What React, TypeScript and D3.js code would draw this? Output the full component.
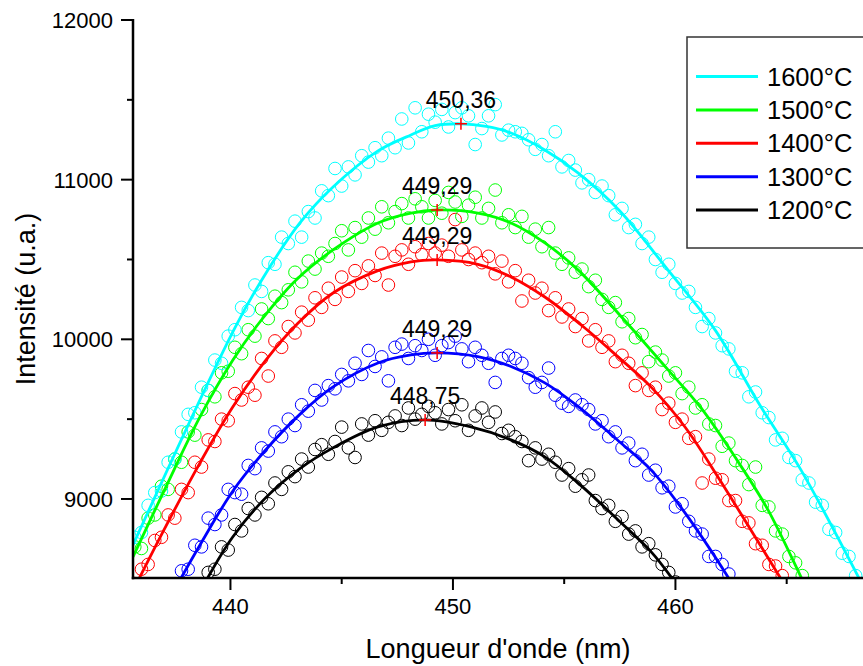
import React from "react";
import * as d3 from "d3";

// ---------- DATA ----------
const wavelengths = [
  435.7, 436.0, 436.3, 436.6, 436.9, 437.2, 437.5, 437.8, 438.1, 438.4,
  438.7, 439.0, 439.3, 439.6, 439.9, 440.2, 440.5, 440.8, 441.1, 441.4,
  441.7, 442.0, 442.3, 442.6, 442.9, 443.2, 443.5, 443.8, 444.1, 444.4,
  444.7, 445.0, 445.3, 445.6, 445.9, 446.2, 446.5, 446.8, 447.1, 447.4,
  447.7, 448.0, 448.3, 448.6, 448.9, 449.2, 449.5, 449.8, 450.1, 450.4,
  450.7, 451.0, 451.3, 451.6, 451.9, 452.2, 452.5, 452.8, 453.1, 453.4,
  453.7, 454.0, 454.3, 454.6, 454.9, 455.2, 455.5, 455.8, 456.1, 456.4,
  456.7, 457.0, 457.3, 457.6, 457.9, 458.2, 458.5, 458.8, 459.1, 459.4,
  459.7, 460.0, 460.3, 460.6, 460.9, 461.2, 461.5, 461.8, 462.1, 462.4,
  462.7, 463.0, 463.3, 463.6, 463.9, 464.2, 464.5, 464.8, 465.1, 465.4,
  465.7, 466.0, 466.3, 466.6, 466.9, 467.2, 467.5, 467.8, 468.1, 468.4,
];

const points1600 = [
  8760, 8790, 8960, 9040, 9050, 9230, 9250, 9420, 9530, 9540,
  9700, 9680, 9870, 9850, 10020, 10060, 10200, 10180, 10340, 10300,
  10480, 10470, 10640, 10600, 10740, 10640, 10800, 10760, 10930, 10900,
  11070, 10960, 11080, 11030, 11150, 11110, 11200, 11150, 11260, 11200,
  11380, 11230, 11450, 11300, 11410, 11360, 11440, 11330, 11420, 11450,
  11400, 11220, 11320, 11400, 11470, 11280, 11310, 11300, 11290, 11250,
  11190, 11220, 11150, 11300, 11080, 11120, 11060, 10980, 11000, 10920,
  10960, 10900, 10780, 10820, 10700, 10720, 10600, 10640, 10500, 10420,
  10470, 10350, 10290, 10300, 10200, 10080, 10130, 10040, 9960, 9940,
  9800, 9790, 9640, 9670, 9540, 9510, 9370, 9380, 9260, 9240,
  9120, 9100, 8980, 8960, 8810, 8790, 8660, 8640, 8520, 8470,
];

const points1500 = [
  8700, 8690, 8880, 8900, 9080, 9060, 9250, 9230, 9420, 9400,
  9560, 9680, 9640, 9790, 9800, 9950, 9910, 10060, 10020, 10190,
  10130, 10270, 10230, 10310, 10420, 10360, 10490, 10440, 10540, 10520,
  10600, 10680, 10560, 10700, 10640, 10760, 10690, 10830, 10730, 10800,
  10850, 10760, 10880, 10830, 10760, 10870, 10790, 10920, 10860, 10770,
  10840, 10890, 10760, 10820, 10935, 10730, 10780, 10700, 10770, 10640,
  10690, 10580, 10700, 10540, 10470, 10510, 10420, 10440, 10330, 10370,
  10250, 10200, 10230, 10110, 10130, 10010, 10030, 9860, 9920, 9870,
  9770, 9790, 9660, 9700, 9570, 9590, 9470, 9460, 9330, 9350,
  9240, 9210, 9090, 9200, 8960, 8950, 8800, 8780, 8640, 8600,
  8520, 8440, null, null, null, null, null, null, null, null,
];

const points1400 = [
  8470, 8560, 8590, 8740, 8760, 8900, 8880, 9060, 9040, 9230,
  9200, 9370, 9360, 9500, 9490, 9660, 9620, 9700, 9650, 9880,
  9770, 9990, 9950, 10080, 10040, 10170, 10120, 10260, 10200, 10320,
  10250, 10390, 10300, 10430, 10350, 10460, 10400, 10540, 10340, 10520,
  10560, 10470, 10580, 10530, 10600, 10540, 10590, 10520, 10750, 10560,
  10500, 10540, 10480, 10520, 10410, 10490, 10360, 10430, 10240, 10370,
  10290, 10320, 10180, 10260, 10140, 10190, 10080, 10130, 9990, 10060,
  9950, 9990, 9860, 9900, 9850, 9710, 9790, 9680, 9700, 9560,
  9600, 9480, 9500, 9380, 9390, 9100, 9250, 9130, 9120, 8990,
  8990, 8860, 8850, 8720, 8710, 8590, 8580, 8520, 8450, null,
  null, null, null, null, null, null, null, null, null, null,
];

const points1300 = [
  null, null, null, null, null, null, null, 8550, 8560, 8710,
  8700, 8880, 8840, 8900, 9060, 9040, 9030, 9210, 9190, 9320,
  9300, 9420, 9390, 9500, 9460, 9590, 9550, 9680, 9620, 9710,
  9690, 9780, 9740, 9850, 9780, 9930, 9830, 9890, 9740, 9950,
  9970, 9880, 9960, 9930, 10000, 9900, 9960, 9980, 10020, 9940,
  9860, 9950, 9900, 9850, 9730, 9880, 9900, 9880, 9850, 9760,
  9700, 9730, 9820, 9650, 9600, 9580, 9620, 9590, 9560, 9470,
  9490, 9390, 9420, 9320, 9350, 9240, 9280, 9150, 9180, 9070,
  9080, 8950, 8970, 8860, 8800, 8780, 8640, 8640, 8590, 8530,
  null, null, null, null, null, null, null, null, null, null,
  null, null, null, null, null, null, null, null, null, null,
];

const points1200 = [
  null, null, null, null, null, null, null, null, null, null,
  null, 8540, 8560, 8700, 8680, 8840, 8800, 8940, 8900, 9010,
  8970, 9100, 9060, 9170, 9140, 9250, 9200, 9310, 9340, 9280,
  9360, 9450, 9320, 9260, 9470, 9400, 9490, 9430, 9480, 9520,
  9460, 9570, 9500, 9530, 9580, 9540, 9470, 9560, 9490, 9590,
  9430, 9520, 9570, 9480, 9545, 9410, 9430, 9390, 9360, 9240,
  9320, 9250, 9280, 9230, 9150, 9190, 9080, 9120, 9150, 8990,
  8940, 8960, 8860, 8890, 8780, 8800, 8700, 8720, 8650, 8590,
  8540, 8480, null, null, null, null, null, null, null, null,
  null, null, null, null, null, null, null, null, null, null,
  null, null, null, null, null, null, null, null, null, null,
];

// fitted curves (knots)
const fit1600X = [435.62, 440.2, 441.6, 443.12, 444.61, 446.63, 448.11, 449.2, 450.36, 451.5, 452.61, 454.13, 455.62, 457.5, 459.66, 461.78, 463.84, 465.64, 468.45];
const fit1600Y = [8712, 10072, 10416, 10729, 10954, 11180, 11280, 11338, 11350, 11333, 11292, 11186, 11042, 10804, 10435, 10059, 9577, 9182, 8450];
const fit1500X = [435.62, 437.1, 438.63, 440.11, 441.33, 442.94, 444.61, 446.63, 448.11, 449.29, 451.12, 452.61, 454.13, 455.62, 457.64, 459.66, 461.15, 462.67, 464.16, 465.64, 466.2];
const fit1500Y = [8637, 9076, 9514, 9870, 10110, 10370, 10560, 10729, 10791, 10810, 10791, 10729, 10604, 10435, 10130, 9810, 9570, 9264, 8932, 8512, 8350];
const fit1400X = [435.6, 437.1, 438.63, 440.11, 441.6, 443.03, 444.61, 446.63, 448.11, 449.29, 451.12, 452.61, 454.13, 455.93, 457.42, 458.9, 460.43, 461.91, 463.39, 464.83, 465.3];
const fit1400Y = [8420, 8830, 9226, 9577, 9871, 10100, 10290, 10430, 10485, 10497, 10470, 10391, 10265, 10071, 9890, 9702, 9451, 9138, 8806, 8480, 8370];
const fit1300X = [437.6, 438.63, 440.11, 441.6, 443.12, 444.61, 446.63, 448.11, 449.29, 451.12, 452.61, 454.13, 455.62, 457.51, 458.9, 460.43, 462.36, 462.8];
const fit1300Y = [8460, 8712, 9050, 9310, 9530, 9702, 9852, 9902, 9915, 9892, 9830, 9727, 9580, 9355, 9182, 8913, 8512, 8410];
const fit1200X = [438.8, 440.11, 441.6, 443.12, 444.61, 446.63, 448.75, 450.81, 452.61, 454.13, 455.62, 457.51, 458.9, 459.8, 460.2];
const fit1200Y = [8462, 8763, 9010, 9190, 9320, 9451, 9495, 9451, 9370, 9264, 9101, 8857, 8670, 8512, 8430];

const seriesNames = ["1600°C", "1500°C", "1400°C", "1300°C", "1200°C"];
const seriesColors = ["#00ffff", "#00ff00", "#ff0000", "#0000ff", "#000000"];

const peakPositions = [450.36, 449.29, 449.29, 449.29, 448.75];
const peakIntensities = [11350, 10810, 10497, 9915, 9495];
const peakLabels = ["450,36", "449,29", "449,29", "449,29", "448,75"];

const xMajorTicks = [440, 450, 460];
const xMinorTicks = [445, 455, 465];
const yMajorTicks = [9000, 10000, 11000, 12000];
const yMinorTicks = [9500, 10500, 11500];

const xTitle = "Longueur d'onde (nm)";
const yTitle = "Intensité (u.a.)";

// ---------- LAYOUT ----------
const W = 863;
const H = 666;
const plotLeft = 133;
const plotRight = 863;
const plotTop = 20;
const plotBottom = 578;
const FONT = "'Liberation Sans', Arial, sans-serif";

export default function App() {
  const x = d3.scaleLinear().domain([435.62, 468.43]).range([plotLeft, plotRight]);
  const y = d3.scaleLinear().domain([8505, 12000]).range([plotBottom, plotTop]);

  const pointsAll = [points1600, points1500, points1400, points1300, points1200];
  const fitsX = [fit1600X, fit1500X, fit1400X, fit1300X, fit1200X];
  const fitsY = [fit1600Y, fit1500Y, fit1400Y, fit1300Y, fit1200Y];

  const line = d3
    .line<[number, number]>()
    .x((d) => x(d[0]))
    .y((d) => y(d[1]))
    .curve(d3.curveCatmullRom.alpha(0.5));

  const order = [4, 3, 2, 1, 0];

  return (
    <svg width={W} height={H} style={{ display: "block", position: "absolute", left: 0, top: 0, background: "#fff" }}>
      <defs>
        <clipPath id="plotClip">
          <rect x={plotLeft} y={plotTop} width={plotRight - plotLeft + 10} height={plotBottom - plotTop} />
        </clipPath>
      </defs>
      <rect x={0} y={0} width={W} height={H} fill="#fff" />

      <g clipPath="url(#plotClip)">
        {order.map((si) => (
          <g key={"pts" + si}>
            {pointsAll[si].map((v, i) =>
              v == null ? null : (
                <circle
                  key={i}
                  cx={x(wavelengths[i])}
                  cy={y(v)}
                  r={6.3}
                  fill="none"
                  stroke={seriesColors[si]}
                  strokeWidth={1}
                />
              )
            )}
          </g>
        ))}
        {order.map((si) => (
          <path
            key={"fit" + si}
            d={line(fitsX[si].map((xv, i) => [xv, fitsY[si][i]] as [number, number])) || ""}
            fill="none"
            stroke={seriesColors[si]}
            strokeWidth={2.8}
          />
        ))}
        {peakPositions.map((p, i) => (
          <g key={"cross" + i} stroke="#ff0000" strokeWidth={1.5}>
            <line x1={x(p) - 6} x2={x(p) + 6} y1={y(peakIntensities[i])} y2={y(peakIntensities[i])} />
            <line x1={x(p)} x2={x(p)} y1={y(peakIntensities[i]) - 6} y2={y(peakIntensities[i]) + 6} />
          </g>
        ))}
      </g>

      {peakPositions.map((p, i) => (
        <text
          key={"lbl" + i}
          x={x(p)}
          y={y(peakIntensities[i]) - 16}
          textAnchor="middle"
          fontFamily={FONT}
          fontSize={23}
          fill="#000"
        >
          {peakLabels[i]}
        </text>
      ))}

      {/* axes */}
      <line x1={plotLeft} x2={plotLeft} y1={plotTop - 1} y2={plotBottom + 1.25} stroke="#000" strokeWidth={2.5} />
      <line x1={plotLeft - 1.25} x2={plotRight + 2} y1={plotBottom} y2={plotBottom} stroke="#000" strokeWidth={2.5} />

      {yMajorTicks.map((t) => (
        <g key={"yt" + t}>
          <line x1={plotLeft - 12} x2={plotLeft} y1={y(t)} y2={y(t)} stroke="#000" strokeWidth={2} />
          <text x={plotLeft - 20} y={y(t) + 8} textAnchor="end" fontFamily={FONT} fontSize={22} fill="#000">
            {t}
          </text>
        </g>
      ))}
      {yMinorTicks.map((t) => (
        <line key={"ym" + t} x1={plotLeft - 6} x2={plotLeft} y1={y(t)} y2={y(t)} stroke="#000" strokeWidth={2} />
      ))}
      {xMajorTicks.map((t) => (
        <g key={"xt" + t}>
          <line x1={x(t)} x2={x(t)} y1={plotBottom} y2={plotBottom + 12} stroke="#000" strokeWidth={2} />
          <text x={x(t)} y={614} textAnchor="middle" fontFamily={FONT} fontSize={22} fill="#000">
            {t}
          </text>
        </g>
      ))}
      {xMinorTicks.map((t) => (
        <line key={"xm" + t} x1={x(t)} x2={x(t)} y1={plotBottom} y2={plotBottom + 6} stroke="#000" strokeWidth={2} />
      ))}

      <text x={(plotLeft + plotRight) / 2} y={658} textAnchor="middle" fontFamily={FONT} fontSize={27} fill="#000">
        {xTitle}
      </text>
      <text
        transform={`translate(35, ${(plotTop + plotBottom) / 2}) rotate(-90)`}
        textAnchor="middle"
        fontFamily={FONT}
        fontSize={27}
        fill="#000"
      >
        {yTitle}
      </text>

      {/* legend */}
      <rect x={687} y={37} width={200} height={211} fill="#fff" stroke="#333" strokeWidth={1.5} />
      {seriesNames.map((n, i) => (
        <g key={"lg" + i}>
          <line x1={696} x2={758} y1={76.5 + 33.4 * i} y2={76.5 + 33.4 * i} stroke={seriesColors[i]} strokeWidth={3} />
          <text x={767} y={76.5 + 33.4 * i + 9} fontFamily={FONT} fontSize={25.5} fill="#000">
            {n}
          </text>
        </g>
      ))}
    </svg>
  );
}
